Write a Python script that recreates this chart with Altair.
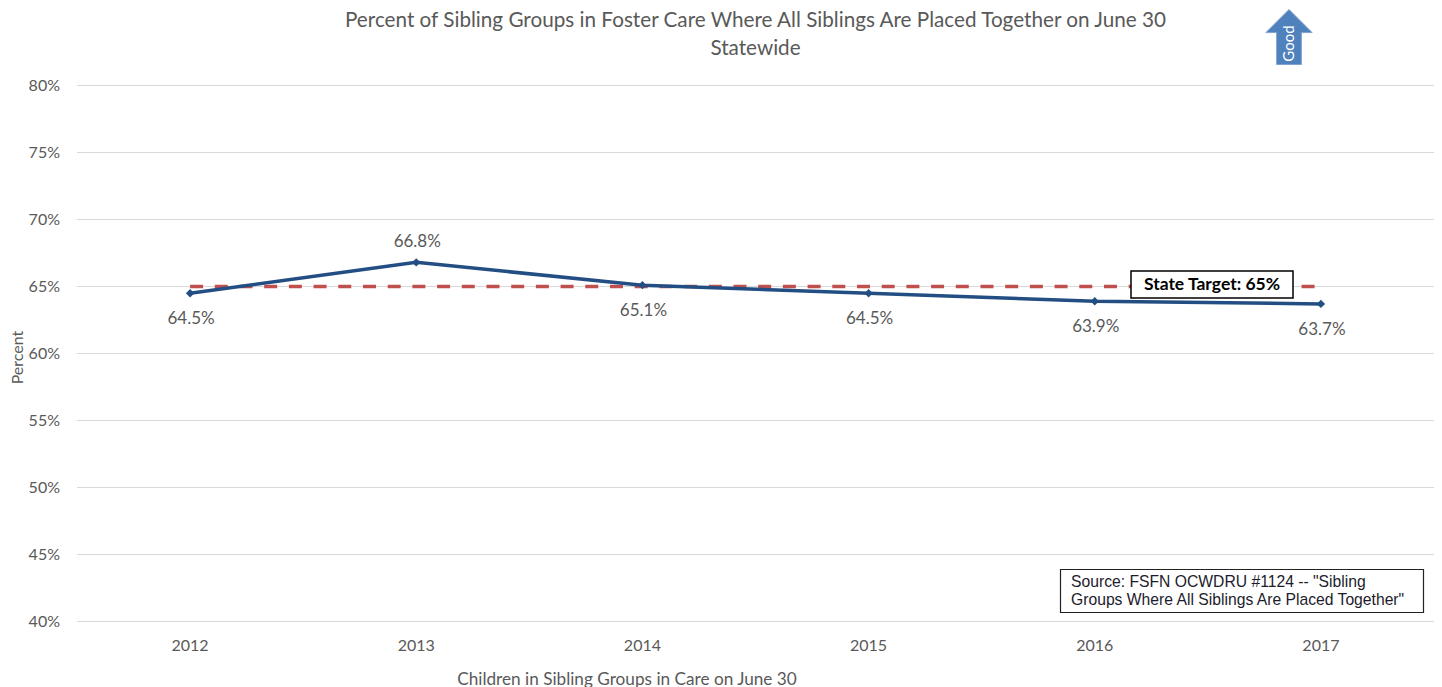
import altair as alt
import pandas as pd

years = [2012, 2013, 2014, 2015, 2016, 2017]
values = [64.5, 66.8, 65.1, 64.5, 63.9, 63.7]
target = [65, 65, 65, 65, 65, 65]
y_ticks = [40, 45, 50, 55, 60, 65, 70, 75, 80]
above_years = [2013]
title_lines = ["Percent of Sibling Groups in Foster Care Where All Siblings Are Placed Together on June 30", "Statewide"]
source_lines = ['Source: FSFN OCWDRU #1124 -- "Sibling', 'Groups Where All Siblings Are Placed Together"']

FONT = "Lato"
GREY = "#595959"
df = pd.DataFrame({"year": years, "value": values, "target": target})
df["label"] = df["value"].map(lambda v: f"{v:.1f}%")
df["above"] = df["year"].isin(above_years)

x = alt.X("year:Q", scale=alt.Scale(domain=[2011.5, 2017.5], nice=False, zero=False),
          axis=alt.Axis(values=years, format="d", title="Children in Sibling Groups in Care on June 30",
                        grid=False, ticks=False, domain=True, domainColor="#d9d9d9", labelFont=FONT,
                        labelFontSize=16, labelColor=GREY, labelPadding=16, titleFont=FONT, titleFontSize=17.2,
                        titleColor=GREY, titleFontWeight="normal", titleX=550, titleY=49.5, titleAnchor="middle",
                        translate=0))


def y_enc(field):
    return alt.Y(field, scale=alt.Scale(domain=[40, 80], nice=False, zero=False),
                 axis=alt.Axis(values=y_ticks, labelExpr="datum.value + '%'", title="Percent", grid=True,
                               gridColor="#d9d9d9", gridWidth=1, ticks=False, domain=False, labelFont=FONT,
                               labelFontSize=16, labelColor=GREY, labelPadding=17, titleFont=FONT, titleFontSize=16,
                               titleColor=GREY, titleFontWeight="normal", titleX=-51, titleY=272, translate=0))


y = y_enc("value:Q")
base = alt.Chart(df)

target_line = base.mark_line(color="#C0504D", strokeWidth=3.5, strokeDash=[13, 11.7]).encode(x=x, y=y_enc("target:Q"))
value_line = base.mark_line(color="#234E83", strokeWidth=3.5).encode(x=x, y=y)
points = base.mark_point(shape="diamond", filled=True, opacity=1, size=70, color="#234E83").encode(x=x, y=y)
labels_below = base.transform_filter("!datum.above").mark_text(dy=26, dx=1, font=FONT, fontSize=17, color=GREY).encode(x=x, y=y, text="label:N")
labels_above = base.transform_filter("datum.above").mark_text(dy=-20, dx=1, font=FONT, fontSize=17, color=GREY).encode(x=x, y=y, text="label:N")

note = pd.DataFrame({"a": [0]})
target_box = alt.Chart(note).mark_rect(fill="white", stroke="black", strokeWidth=1.5).encode(
    x=alt.value(1054), x2=alt.value(1216), y=alt.value(185.5), y2=alt.value(212.5))
target_text = alt.Chart(note).mark_text(text="State Target: 65%", font=FONT, fontSize=17.5, fontWeight="bold", color="black").encode(
    x=alt.value(1135), y=alt.value(199.5))
source_box = alt.Chart(note).mark_rect(fill="white", stroke="#222222", strokeWidth=1.2).encode(
    x=alt.value(983.5), x2=alt.value(1346.5), y=alt.value(484), y2=alt.value(527))
source_text = [
    alt.Chart(note).mark_text(text=t, font="Liberation Sans", fontSize=15.7, color="#1c1c2c", align="left").encode(
        x=alt.value(994), y=alt.value(yy))
    for t, yy in zip(source_lines, [496.5, 514.5])
]
arrow = alt.Chart(note).mark_point(
    shape="M0,-1 L0.84,-0.16 L0.45,-0.16 L0.45,1 L-0.45,1 L-0.45,-0.16 L-0.84,-0.16 Z",
    filled=True, opacity=1, fill="#4F81BD", stroke="#7FA3CF", strokeWidth=1, size=3025).encode(
    x=alt.value(1212), y=alt.value(-48.5))
good = alt.Chart(note).mark_text(text="Good", font=FONT, fontSize=15, angle=270, color="white").encode(
    x=alt.value(1212), y=alt.value(-42))

chart = alt.layer(target_line, value_line, points, labels_below, labels_above, target_box, target_text,
                  source_box, *source_text, arrow, good).properties(
    width=1357, height=536,
    title=alt.Title(title_lines, font=FONT, fontSize=20.7, fontWeight="normal", color=GREY, anchor="middle",
                    lineHeight=28, offset=-52),
    autosize=alt.AutoSizeParams(type="none"),
    padding={"left": 69, "top": 77.5, "right": 0, "bottom": 70},
).configure_view(stroke=None)

chart.save("out.html", embed_options={"renderer": "svg", "actions": False})
